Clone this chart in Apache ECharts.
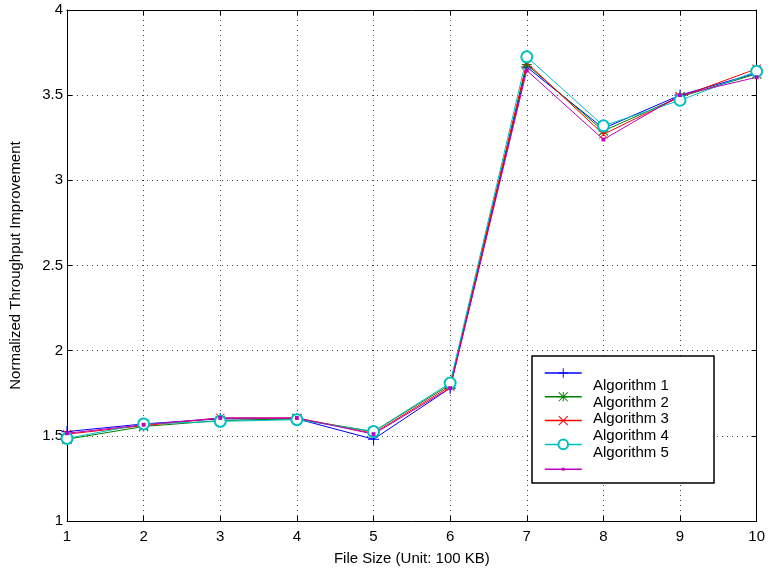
<!DOCTYPE html>
<html>
<head>
<meta charset="utf-8">
<script src="https://cdn.jsdelivr.net/npm/echarts@6/dist/echarts.min.js"></script>
<style>html,body{margin:0;padding:0;background:#fff}#c{width:768px;height:571px}</style>
</head>
<body>
<div id="c"></div>
<script>
const fileSizes = [1, 2, 3, 4, 5, 6, 7, 8, 9, 10];
const seriesNames = ['Algorithm 1', 'Algorithm 2', 'Algorithm 3', 'Algorithm 4', 'Algorithm 5'];
const alg1 = [1.525, 1.570, 1.600, 1.600, 1.480, 1.780, 3.665, 3.305, 3.500, 3.630];
const alg2 = [1.480, 1.555, 1.590, 1.600, 1.525, 1.800, 3.680, 3.290, 3.490, 3.625];
const alg3 = [1.510, 1.560, 1.605, 1.605, 1.515, 1.790, 3.690, 3.270, 3.490, 3.655];
const alg4 = [1.485, 1.570, 1.585, 1.595, 1.525, 1.810, 3.725, 3.320, 3.470, 3.640];
const alg5 = [1.515, 1.565, 1.605, 1.605, 1.510, 1.780, 3.645, 3.240, 3.500, 3.605];
const xTicks = [1, 10, 1];
const yTicks = [1, 4, 0.5];

const colors = ['#0000ff', '#008000', '#ff0000', '#00bfbf', '#bf00bf'];
const plusPath = 'path://M0,9H20V11H0Z M9,0H11V20H9Z';
const xPath = 'path://M1.4,0L20,18.6L18.6,20L0,1.4Z M0,18.6L18.6,0L20,1.4L1.4,20Z';
const starPath = 'path://M0,9H20V11H0Z M9,0H11V20H9Z M1.4,0L20,18.6L18.6,20L0,1.4Z M0,18.6L18.6,0L20,1.4L1.4,20Z';
const dotPath = 'path://M0,0 M7,7H13V13H7Z M20,20';
const symbols = [plusPath, starPath, xPath, 'emptyCircle', dotPath];
const symbolSizes = [11, 10, 9, 11, 13];
const allData = [alg1, alg2, alg3, alg4, alg5];

const FONT = '"Liberation Sans", Arial, Helvetica, sans-serif';

const series = allData.map((vals, i) => ({
  name: seriesNames[i],
  type: 'line',
  xAxisIndex: 0,
  yAxisIndex: 0,
  data: fileSizes.map((x, j) => [x, vals[j]]),
  symbol: symbols[i],
  symbolSize: symbolSizes[i],
  showAllSymbol: true,
  lineStyle: { color: colors[i], width: 1 },
  itemStyle: { color: colors[i], borderColor: colors[i], borderWidth: i === 3 ? 1 : 0 },
  emphasis: { disabled: true },
  animation: false
}));

const chart = echarts.init(document.getElementById('c'));
const axisCommon = {
  axisLine: { show: true, lineStyle: { color: '#000', width: 1 } },
  axisTick: { show: true, inside: true, length: 5, lineStyle: { color: '#000' } }
};
const labelsY = [386, 402.5, 419, 436, 453];
chart.setOption({
  animation: false,
  backgroundColor: '#fff',
  grid: { left: 67, right: 9, top: 10, bottom: 50 },
  xAxis: [
    Object.assign({
      type: 'value', min: xTicks[0], max: xTicks[1], interval: xTicks[2], position: 'bottom',
      name: 'File Size (Unit: 100 KB)', nameLocation: 'middle', nameGap: 30,
      nameTextStyle: { fontFamily: FONT, fontSize: 15, color: '#000' },
      axisLabel: { fontFamily: FONT, fontSize: 15, color: '#000', margin: 8 },
      splitLine: { show: true, lineStyle: { color: '#444', type: [1, 4], width: 1 } }
    }, axisCommon),
    Object.assign({
      type: 'value', min: xTicks[0], max: xTicks[1], interval: xTicks[2], position: 'top',
      axisLabel: { show: false }, splitLine: { show: false }
    }, axisCommon)
  ],
  yAxis: [
    Object.assign({
      type: 'value', min: yTicks[0], max: yTicks[1], interval: yTicks[2], position: 'left',
      name: 'Normalized Throughput Improvement', nameLocation: 'middle', nameGap: 44,
      nameTextStyle: { fontFamily: FONT, fontSize: 15, color: '#000' },
      axisLabel: { fontFamily: FONT, fontSize: 15, color: '#000', margin: 4 },
      splitLine: { show: true, lineStyle: { color: '#444', type: [1, 4], width: 1 } }
    }, axisCommon),
    Object.assign({
      type: 'value', min: yTicks[0], max: yTicks[1], interval: yTicks[2], position: 'right',
      axisLabel: { show: false }, splitLine: { show: false }
    }, axisCommon)
  ],
  legend: {
    data: seriesNames,
    orient: 'vertical',
    left: 544,
    top: 367,
    padding: 0,
    itemWidth: 37,
    itemHeight: 12,
    itemGap: 13,
    lineStyle: { width: 1.5 },
    formatter: function () { return ''; },
    textStyle: { fontSize: 1 },
    selectedMode: false,
    z: 6
  },
  graphic: [
    {
      type: 'rect', z: 5,
      shape: { x: 532, y: 356, width: 182, height: 127 },
      style: { fill: '#fff', stroke: '#000', lineWidth: 1.5 }
    }
  ].concat(seriesNames.map((n, i) => ({
    type: 'text', z: 7,
    x: 593, y: labelsY[i],
    style: { text: n, font: '15px ' + FONT, fill: '#000', verticalAlign: 'middle' }
  }))),
  series: series
});
</script>
</body>
</html>
